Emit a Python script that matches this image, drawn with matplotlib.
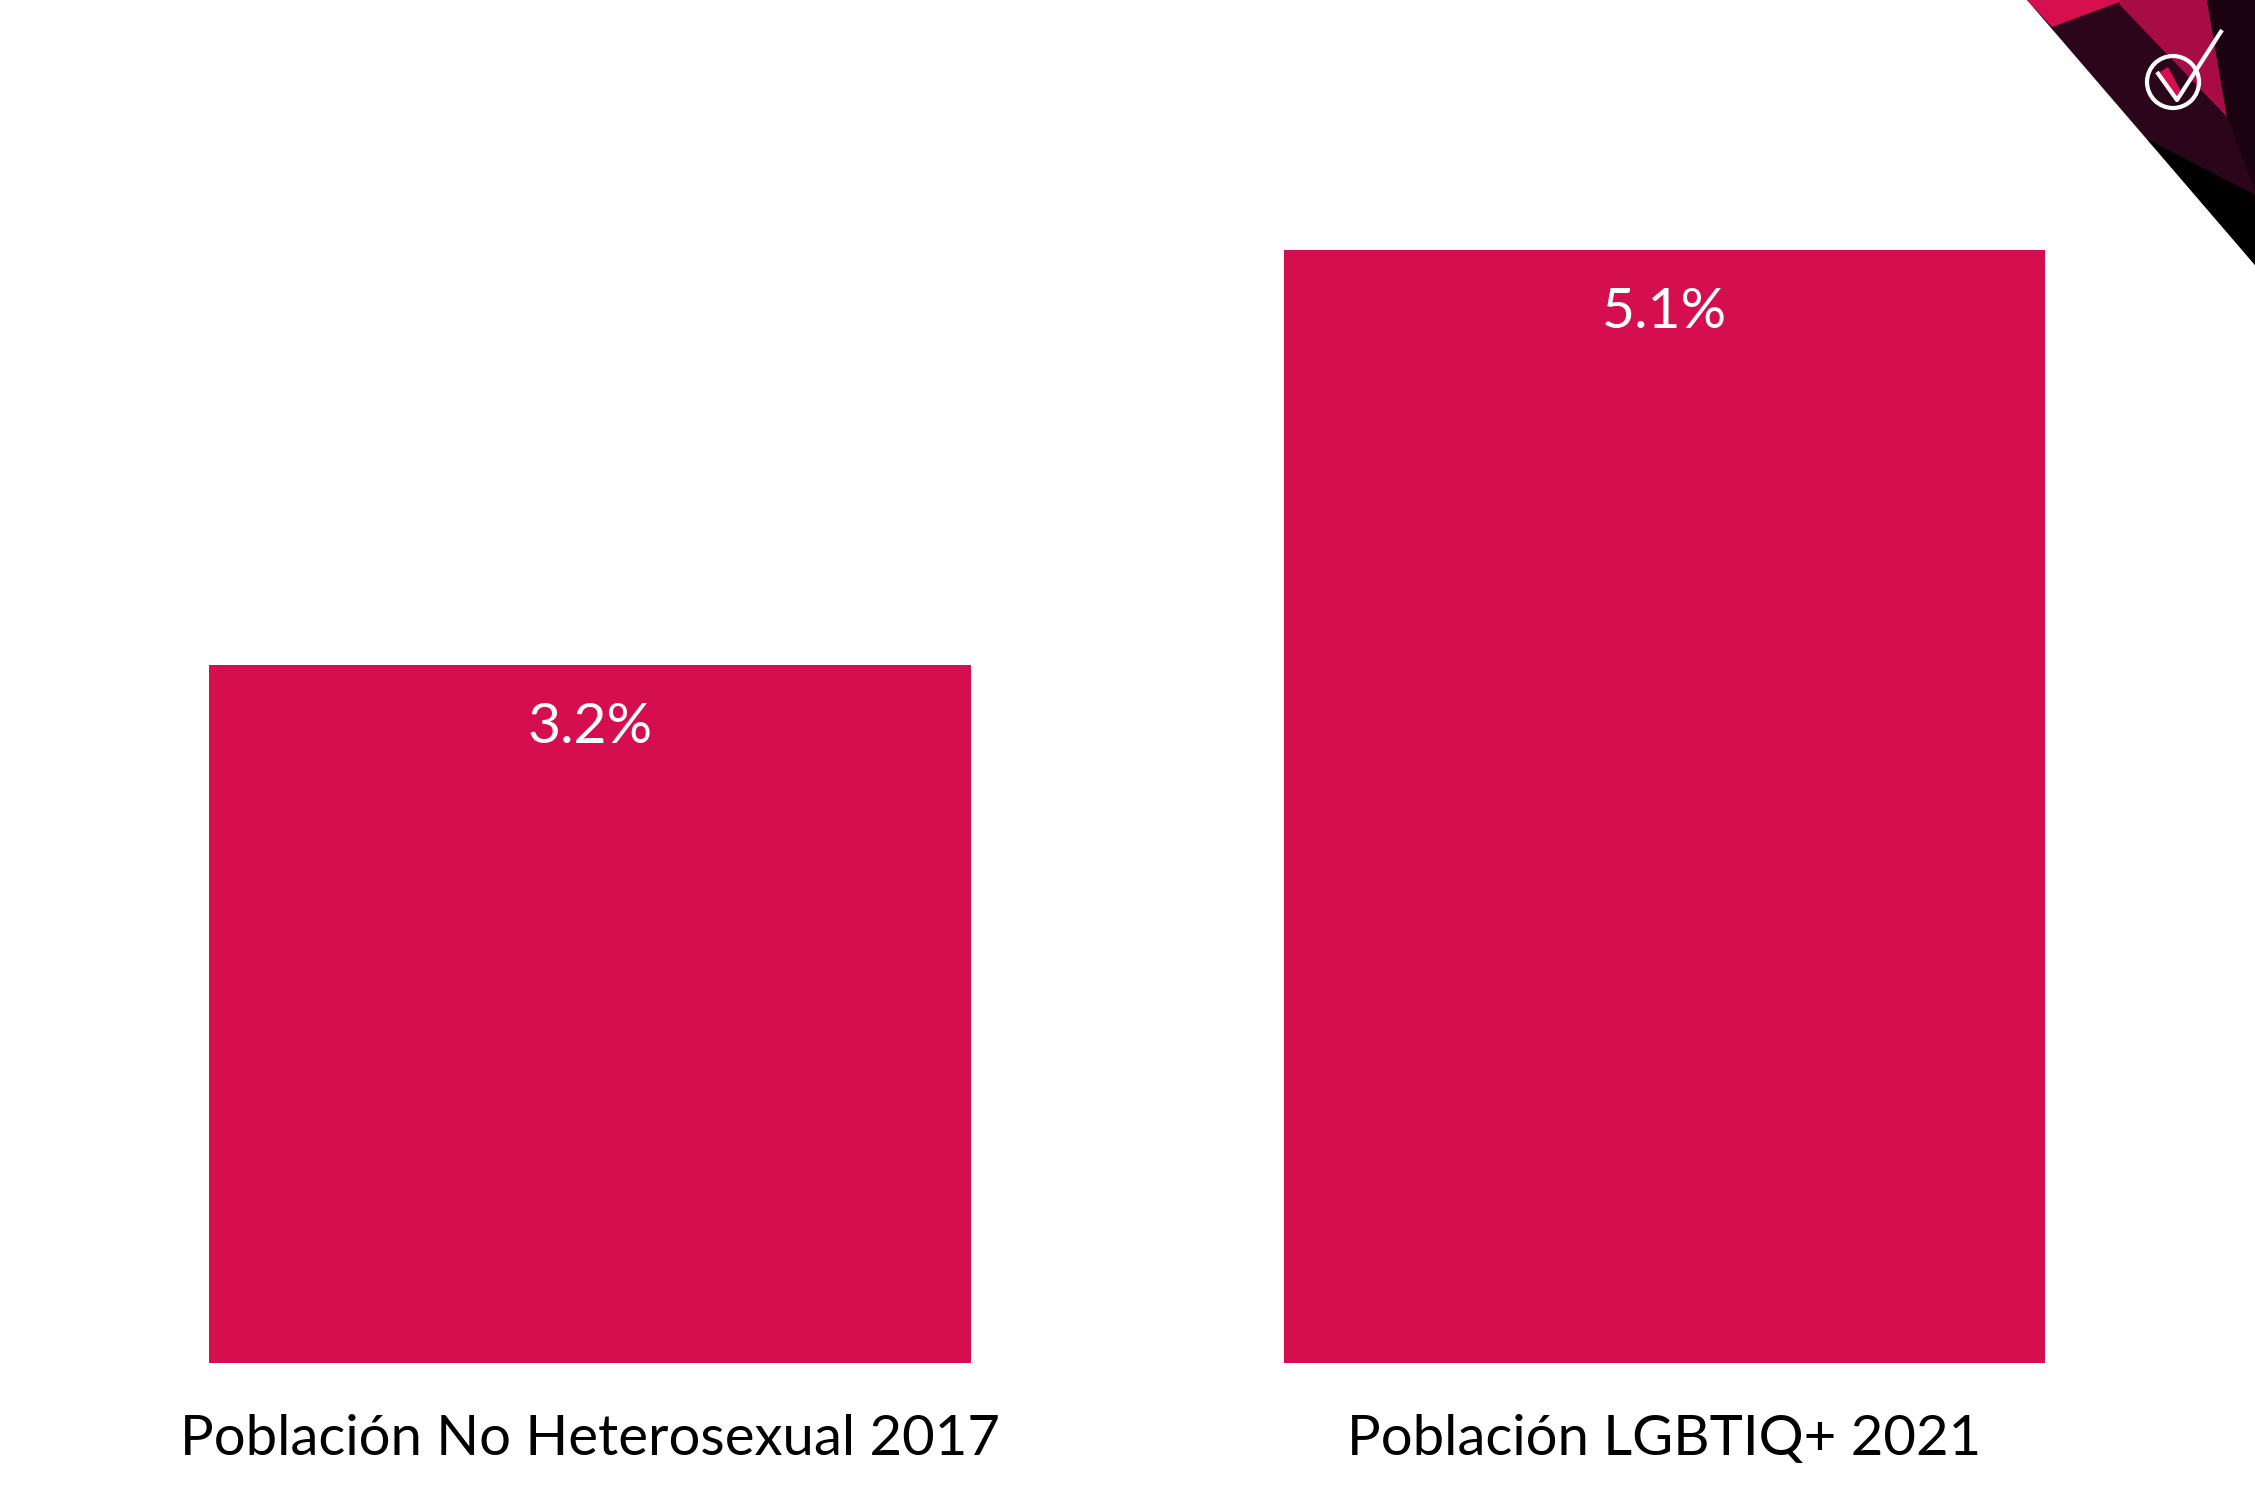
import matplotlib.pyplot as plt
from matplotlib.patches import Polygon, Circle

categories = ["Población No Heterosexual 2017", "Población LGBTIQ+ 2021"]
values = [3.2, 5.1]
value_labels = ["3.2%", "5.1%"]

bar_color = "#D50E4F"
plt.rcParams['font.family'] = ['Lato', 'DejaVu Sans']

fig = plt.figure(figsize=(22.55, 15.07), dpi=100)
fig.patch.set_facecolor("white")

# main bar axes
ax = fig.add_axes([0, 0.0956, 1, 0.7386])
x = list(range(len(categories)))
ax.bar(x, values, width=0.709, color=bar_color)
ax.set_xlim(-0.549, 1.5496)
ax.set_ylim(0, max(values))
for xi, v, lab in zip(x, values, value_labels):
    ax.annotate(lab, (xi, v), xytext=(0, -45), textcoords="offset points",
                ha="center", va="center", color="white", fontsize=41)

for xi, cat in zip(x, categories):
    ax.annotate(cat, (xi, 0), xytext=(0, -55), textcoords="offset points",
                ha="center", va="center", color="black", fontsize=40.5)
ax.axis("off")

# corner decoration in pixel coordinates
ov = fig.add_axes([0, 0, 1, 1], zorder=5)
ov.set_xlim(0, 2255)
ov.set_ylim(1507, 0)
ov.axis("off")
ov.patch.set_alpha(0)
ov.add_patch(Polygon([(2027, 0), (2255, 0), (2255, 265)], closed=True, color="#2b0519", lw=0))
ov.add_patch(Polygon([(2027, 0), (2125, 0), (2052, 27)], closed=True, color="#d6104f", lw=0))
ov.add_patch(Polygon([(2120, 0), (2207, 0), (2227, 117), (2120, 5)], closed=True, color="#a80c45", lw=0))
ov.add_patch(Polygon([(2207, 0), (2255, 0), (2255, 190), (2227, 117)], closed=True, color="#1a0210", lw=0))
ov.add_patch(Polygon([(2147, 139), (2255, 195), (2255, 265)], closed=True, color="black", lw=0))
ov.add_patch(Polygon([(2160, 72), (2168, 67), (2183, 95), (2176, 100)], closed=True, color="#d6104f", lw=0))
ov.add_patch(Circle((2173, 82), 26, fill=False, ec="white", lw=3))
ov.plot([2157, 2177, 2222], [72, 100, 30], color="white", lw=3, solid_capstyle="butt")

fig.savefig("out.png", dpi=100)
